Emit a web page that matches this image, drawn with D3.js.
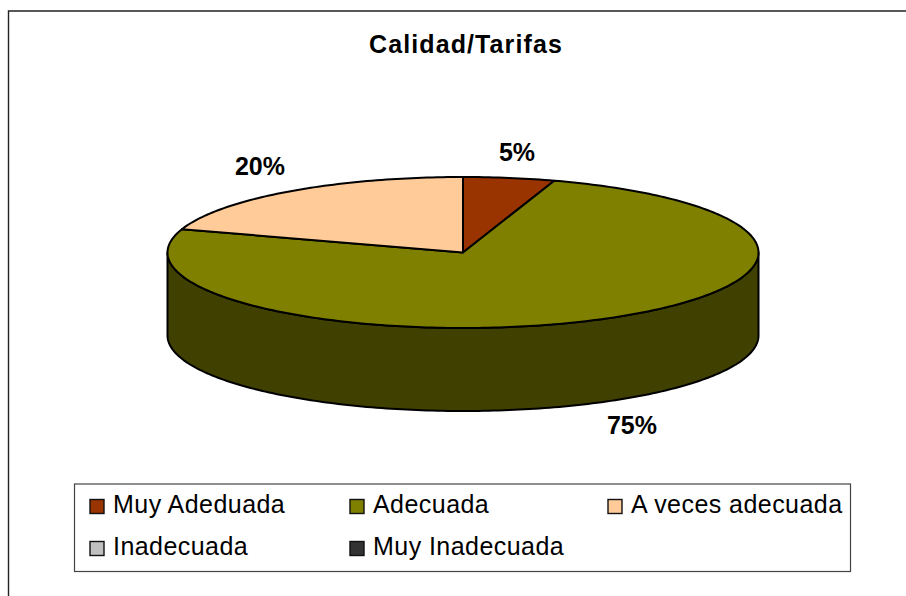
<!DOCTYPE html>
<html>
<head>
<meta charset="utf-8">
<script src="https://cdn.jsdelivr.net/npm/d3@7"></script>
<style>
  html, body { margin: 0; padding: 0; background: #fff; }
  svg { display: block; }
  text { font-family: "Liberation Sans", Arial, sans-serif; fill: #000; }
</style>
</head>
<body>
<div id="chart"></div>
<script>
// Data
const categories = ["Muy Adeduada", "Adecuada", "A veces adecuada", "Inadecuada", "Muy Inadecuada"];
const values = [5, 75, 20, 0, 0];
const colors = ["#993300", "#808000", "#ffcc99", "#c0c0c0", "#333333"];
const chartTitle = "Calidad/Tarifas";

// Dimensions
const width = 906, height = 596;
const cx = 463, cy = 252.5, rx = 295.5, ry = 75.5, depth = 83;
const sideColor = "#404000";

const svg = d3.select("#chart").append("svg")
    .attr("width", width)
    .attr("height", height);

// Outer frame, only the top and left edges are inside the picture
svg.append("path")
    .attr("d", d3.line()([[8.5, height], [8.5, 11], [width, 11]]))
    .attr("fill", "none")
    .attr("stroke", "#222")
    .attr("stroke-width", 1.4);

svg.append("text")
    .attr("x", 466)
    .attr("y", 52.5)
    .attr("text-anchor", "middle")
    .style("font-size", "25px")
    .style("letter-spacing", "1.1px")
    .style("font-weight", "bold")
    .text(chartTitle);

// Pie on a unit circle, squashed into an ellipse by the scales
const x = d3.scaleLinear().domain([-1, 1]).range([cx - rx, cx + rx]);
const y = d3.scaleLinear().domain([-1, 1]).range([cy - ry, cy + ry]);

const pie = d3.pie().sort(null).value(d => d);
const arcs = pie(values);

// Angle measured clockwise from 12 o'clock, like d3.pie
const px = a => x(Math.sin(a));
const py = a => y(-Math.cos(a));

// Front wall of the cylinder
const frontAngles = d3.range(90, 270.5, 1).map(d => d * Math.PI / 180);
svg.append("path")
    .attr("d", d3.area().x(px).y0(py).y1(a => py(a) + depth)(frontAngles))
    .attr("fill", sideColor)
    .attr("stroke", "#000")
    .attr("stroke-width", 2)
    .attr("stroke-linejoin", "round");

// Top face slices
const slicePath = d => {
    const steps = Math.max(2, Math.ceil((d.endAngle - d.startAngle) * 180 / Math.PI));
    const pts = d3.range(steps + 1).map(i => {
        const a = d.startAngle + (d.endAngle - d.startAngle) * i / steps;
        return [px(a), py(a)];
    });
    return d3.line()([[x(0), y(0)], ...pts]) + "Z";
};

svg.selectAll(".slice")
    .data(arcs.filter(d => d.value > 0))
    .join("path")
    .attr("class", "slice")
    .attr("d", slicePath)
    .attr("fill", d => colors[d.index])
    .attr("stroke", "#000")
    .attr("stroke-width", 2)
    .attr("stroke-linejoin", "round");

// Percent labels
const total = d3.sum(values);
const labelPos = [[517, 160.5], [632, 434], [260, 174.5]];
svg.selectAll(".pct")
    .data(arcs.filter(d => d.value > 0))
    .join("text")
    .attr("class", "pct")
    .attr("x", (d, i) => labelPos[i][0])
    .attr("y", (d, i) => labelPos[i][1])
    .attr("text-anchor", "middle")
    .style("font-size", "25px")
    .style("font-weight", "bold")
    .text(d => Math.round(d.value / total * 100) + "%");

// Legend
svg.append("rect")
    .attr("x", 74.5)
    .attr("y", 484)
    .attr("width", 776)
    .attr("height", 87.5)
    .attr("fill", "#fff")
    .attr("stroke", "#444")
    .attr("stroke-width", 1.2);

const legendCol = [90, 350, 608];
const legendRow = [499, 541];
const legend = svg.selectAll(".legend-item")
    .data(categories)
    .join("g")
    .attr("class", "legend-item")
    .attr("transform", (d, i) => `translate(${legendCol[i % 3]},${legendRow[Math.floor(i / 3)]})`);

legend.append("rect")
    .attr("x", 0)
    .attr("y", 0.5)
    .attr("width", 14)
    .attr("height", 14)
    .attr("fill", (d, i) => colors[i])
    .attr("stroke", "#111")
    .attr("stroke-width", 1.4);

legend.append("text")
    .attr("x", d => 23)
    .attr("y", 14)
    .style("font-size", "25px")
    .style("letter-spacing", "0.45px")
    .text(d => d);
</script>
</body>
</html>
